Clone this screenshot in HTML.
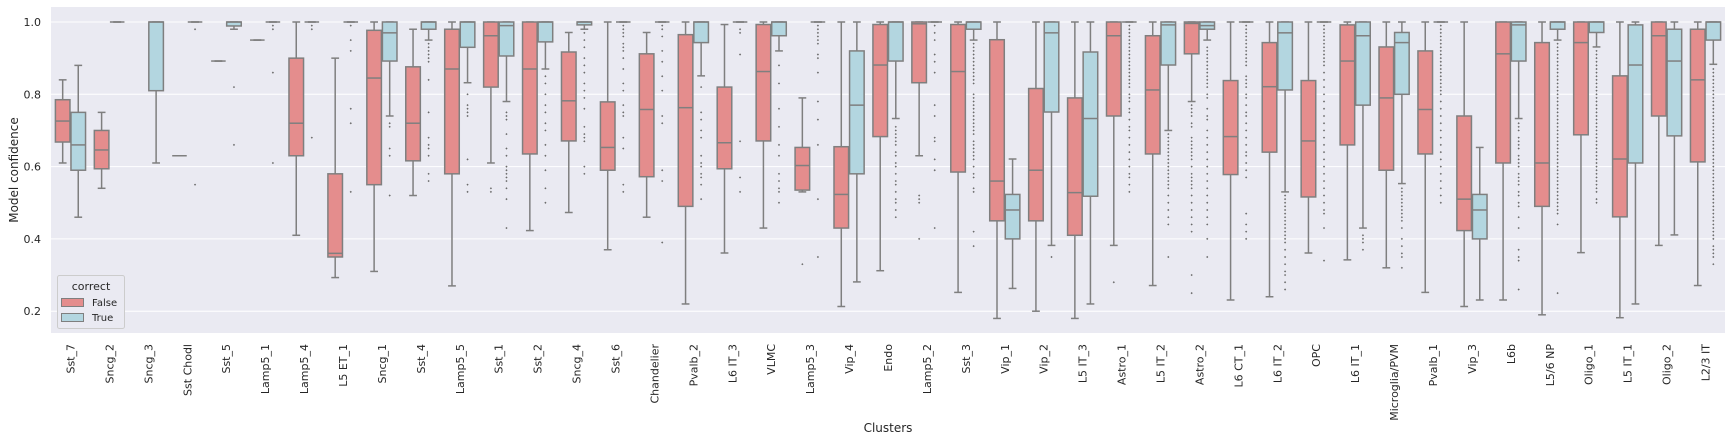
<!DOCTYPE html>
<html><head><meta charset="utf-8"><style>
html,body{margin:0;padding:0;background:#fff;}
svg{display:block;font-family:"DejaVu Sans","Liberation Sans",sans-serif;}
</style></head><body>
<svg id="chart" width="1732" height="444" viewBox="0 0 1732 444" xmlns="http://www.w3.org/2000/svg">
<rect x="51" y="7" width="1674" height="326" fill="#eaeaf2"/>
<g id="grid"></g>
<g id="yticks"></g>
<g id="marks"></g>
<g id="xticks"></g>
<text x="0" y="0" transform="translate(18,170) rotate(-90)" text-anchor="middle" font-size="12" fill="#262626">Model confidence</text>
<text x="888" y="432" text-anchor="middle" font-size="12" fill="#262626">Clusters</text>
<g>
<rect x="57.5" y="275.5" width="67" height="53" rx="2" fill="#eaeaf2" stroke="#cccccc" stroke-width="1"/>
<text x="91" y="290" text-anchor="middle" font-size="11" fill="#262626">correct</text>
<rect x="61.5" y="298.5" width="22" height="8" fill="#e48d8d" stroke="#7f7f7f"/>
<text x="92" y="306" font-size="10" fill="#262626">False</text>
<rect x="61.5" y="313.5" width="22" height="8" fill="#b3d6e0" stroke="#7f7f7f"/>
<text x="92" y="321" font-size="10" fill="#262626">True</text>
</g>
</svg>
<script>
const categories=["Sst_7","Sncg_2","Sncg_3","Sst Chodl","Sst_5","Lamp5_1","Lamp5_4","L5 ET_1","Sncg_1","Sst_4","Lamp5_5","Sst_1","Sst_2","Sncg_4","Sst_6","Chandelier","Pvalb_2","L6 IT_3","VLMC","Lamp5_3","Vip_4","Endo","Lamp5_2","Sst_3","Vip_1","Vip_2","L5 IT_3","Astro_1","L5 IT_2","Astro_2","L6 CT_1","L6 IT_2","OPC","L6 IT_1","Microglia/PVM","Pvalb_1","Vip_3","L6b","L5/6 NP","Oligo_1","L5 IT_1","Oligo_2","L2/3 IT"];
// False series: [whisker-low, q1, median, q3, whisker-high]
const falseStats=[[.61,.668,.726,.785,.84],[.54,.594,.646,.70,.75],null,[.63,.63,.63,.63,.63],[.892,.892,.892,.892,.892],[.95,.95,.95,.95,.95],[.41,.63,.72,.90,1],[.293,.35,.36,.58,.90],[.31,.55,.845,.977,1],[.52,.616,.72,.876,.98],[.27,.58,.87,.98,1],[.61,.82,.962,1,1],[.423,.635,.87,1,1],[.473,.671,.782,.917,.971],[.37,.59,.653,.779,1],[.46,.572,.758,.912,.971],[.22,.49,.763,.965,1],[.361,.594,.666,.82,.993],[.43,.671,.863,.993,1],[.53,.535,.603,.653,.79],[.213,.43,.523,.655,1],[.312,.683,.881,.993,1],[.63,.832,.995,1,1],[.252,.585,.863,.993,1],[.18,.45,.56,.951,1],[.20,.45,.59,.816,1],[.18,.41,.528,.79,1],[.382,.74,.962,1,1],[.271,.635,.812,.962,1],[.78,.912,.996,1,1],[.231,.578,.683,.838,1],[.24,.64,.821,.943,1],[.361,.516,.671,.838,1],[.342,.66,.892,.992,1],[.32,.59,.79,.931,1],[.252,.635,.758,.92,1],[.213,.423,.51,.74,1],[.231,.61,.912,1,1],[.19,.49,.61,.943,1],[.362,.688,.943,1,1],[.182,.461,.621,.851,1],[.382,.74,.962,1,1],[.271,.613,.84,.98,1]];
const trueStats=[[.46,.59,.66,.75,.88],[1,1,1,1,1],[.61,.81,1,1,1],[1,1,1,1,1],[.98,.989,1,1,1],[1,1,1,1,1],[1,1,1,1,1],[1,1,1,1,1],[.74,.892,.97,1,1],[.95,.98,1,1,1],[.832,.93,1,1,1],[.78,.906,.99,1,1],[.87,.945,1,1,1],[.98,.992,1,1,1],[1,1,1,1,1],[1,1,1,1,1],[.851,.943,1,1,1],[1,1,1,1,1],[.92,.962,1,1,1],[1,1,1,1,1],[.281,.58,.77,.92,1],[.733,.892,1,1,1],[1,1,1,1,1],[.95,.98,1,1,1],[.263,.40,.48,.523,.621],[.382,.751,.97,1,1],[.22,.518,.733,.917,1],[1,1,1,1,1],[.70,.881,.992,1,1],[.95,.98,.99,1,1],[1,1,1,1,1],[.53,.812,.97,1,1],[1,1,1,1,1],[.43,.77,.962,1,1],[.553,.80,.943,.971,1],[1,1,1,1,1],[.231,.40,.48,.523,.653],[.733,.892,.992,1,1],[.95,.98,1,1,1],[.931,.971,1,1,1],[.22,.61,.881,.992,1],[.411,.685,.892,.98,1],[.883,.95,1,1,1]];
const falseOutliers=[[],[],[],[],[],[],[],[],[],[],[],[.54,.53],[],[],[],[],[],[],[],[.33],[],[],[.52,.51,.50,.40],[],[],[],[],[.28],[],[.77,.76,.75,.74,.72,.71,.68,.67,.66,.65,.64,.63,.62,.60,.58,.57,.56,.55,.54,.52,.50,.48,.46,.44,.42,.30,.25],[],[],[],[],[],[],[],[],[],[],[],[],[]];
const trueOutliers=[[],[],[],[.98,.55],[.82,.66],[.99,.98,.86,.61],[.99,.98,.68],[.99,.95,.92,.76,.72,.53],[.72,.71,.65,.63,.52],[.94,.93,.92,.91,.90,.89,.84,.75,.68,.66,.65,.63,.58,.56],[.80,.77,.76,.75,.74,.62,.55,.53],[.75,.74,.73,.69,.65,.63,.60,.59,.58,.57,.56,.54,.51,.43],[.85,.83,.80,.77,.75,.72,.70,.66,.63,.59,.54,.50],[.97,.95,.93,.90,.88,.86,.83,.81,.79,.76,.71,.69,.68,.67,.60,.58],[.99,.98,.97,.96,.94,.93,.92,.90,.87,.83,.81,.77,.75,.74,.68,.65,.55,.53],[.99,.98,.96,.92,.89,.85,.81,.74,.72,.59,.56,.39],[.82,.75,.73,.70,.68,.63,.61,.60,.58,.57,.55,.51],[.98,.97,.91,.67,.57,.53],[.88,.83,.76,.71,.66,.63,.58,.56,.54,.53,.50],[.99,.98,.97,.96,.95,.94,.91,.90,.86,.78,.73,.66,.51,.35],[],[.71,.70,.69,.68,.67,.66,.64,.63,.61,.60,.58,.56,.55,.53,.51,.50,.48,.46],[.99,.97,.95,.91,.89,.86,.77,.74,.68,.67,.62,.59,.43],[.94,.93,.92,.91,.90,.89,.88,.87,.86,.85,.84,.83,.80,.79,.78,.77,.76,.75,.74,.73,.72,.71,.70,.69,.67,.66,.65,.64,.63,.62,.60,.58,.57,.54,.53,.42,.38],[],[.35],[],[.99,.98,.97,.96,.95,.94,.93,.92,.91,.90,.89,.88,.87,.86,.85,.84,.83,.82,.80,.79,.78,.76,.75,.73,.71,.70,.68,.66,.64,.62,.60,.58,.57,.55,.53],[.69,.68,.67,.66,.65,.64,.63,.62,.61,.60,.59,.58,.57,.56,.55,.54,.52,.50,.48,.46,.44,.35],[.93,.92,.91,.90,.89,.88,.87,.86,.85,.84,.83,.82,.80,.79,.76,.74,.73,.70,.68,.66,.64,.62,.60,.58,.56,.54,.52,.50,.48,.46,.44,.40,.35],[.99,.98,.97,.96,.95,.94,.93,.92,.91,.90,.89,.88,.85,.84,.83,.82,.80,.79,.77,.75,.74,.72,.70,.68,.66,.64,.63,.61,.59,.57,.47,.44,.42,.40],[.52,.51,.50,.49,.48,.47,.46,.45,.44,.43,.42,.41,.40,.39,.37,.35,.33,.31,.30,.28,.26],[.99,.98,.97,.96,.95,.94,.93,.92,.91,.90,.89,.88,.86,.84,.82,.80,.78,.76,.74,.72,.70,.68,.66,.64,.62,.60,.58,.56,.54,.52,.50,.48,.47,.43,.34],[.41,.40,.39,.37],[.54,.53,.52,.51,.50,.49,.48,.47,.46,.45,.43,.40,.38,.36,.35,.32],[.99,.98,.97,.96,.95,.94,.93,.92,.91,.90,.89,.88,.87,.86,.85,.84,.83,.82,.81,.80,.78,.76,.74,.72,.70,.68,.66,.64,.62,.60,.58,.56,.54,.52,.50],[],[.72,.71,.70,.68,.67,.66,.65,.63,.62,.61,.60,.58,.57,.56,.55,.53,.52,.50,.49,.46,.43,.37,.35,.34,.26],[.94,.93,.92,.91,.90,.89,.88,.87,.86,.85,.84,.83,.82,.81,.80,.79,.78,.77,.76,.75,.74,.73,.72,.71,.70,.69,.68,.67,.66,.65,.64,.63,.62,.61,.60,.59,.58,.57,.56,.55,.54,.53,.52,.51,.50,.49,.48,.47,.44,.25],[.92,.91,.90,.89,.88,.87,.86,.85,.84,.83,.82,.81,.80,.79,.78,.77,.76,.75,.74,.73,.72,.71,.70,.69,.68,.67,.66,.65,.64,.63,.62,.61,.60,.59,.58,.57,.56,.55,.54,.53,.51,.50],[],[],[.87,.86,.85,.84,.83,.82,.81,.80,.79,.78,.77,.76,.75,.74,.73,.72,.71,.70,.69,.68,.67,.66,.65,.64,.63,.62,.61,.60,.59,.58,.57,.56,.55,.54,.53,.52,.51,.50,.49,.48,.47,.46,.45,.44,.43,.42,.41,.40,.38,.37,.36,.35,.33]];
const yTickValues=[0.2,0.4,0.6,0.8,1.0];
const yTickLabels=["0.2","0.4","0.6","0.8","1.0"];

const NS="http://www.w3.org/2000/svg";
const PL=51,PR=1725,PT=7,PB=333;
const bw=(PR-PL)/categories.length;
function xCenter(i){return PL+bw*(i+0.5);}
function yScale(v){return 22+(1-v)*361.5;}
function mk(tag,attrs,parent){const e=document.createElementNS(NS,tag);for(const k in attrs)e.setAttribute(k,attrs[k]);parent.appendChild(e);return e;}

const grid=document.getElementById('grid'),yt=document.getElementById('yticks');
yTickValues.forEach((v,k)=>{
  const l=mk('line',{x1:PL,x2:PR,y1:yScale(v),y2:yScale(v),stroke:'#ffffff','stroke-width':1},grid);
  
  
  const t=mk('text',{x:41,y:yScale(v)+4,'text-anchor':'end','font-size':11,fill:'#262626'},yt);
  t.textContent=yTickLabels[k];
  
  
});

const xt=document.getElementById('xticks');
categories.forEach((c,i)=>{
  const t=mk('text',{transform:`translate(${xCenter(i)+4},344) rotate(-90)`,'text-anchor':'end','font-size':11,fill:'#262626'},xt);
  t.textContent=c;
  
  
});

const marks=document.getElementById('marks');
const half=bw*0.4,EC='#7f7f7f';
function drawBox(i,st,outs,side,fill,label){
  if(!st)return;
  const g=mk('g',{},marks);
  
  
  const x0=side===0?xCenter(i)-half:xCenter(i), x1=x0+half, xm=(x0+x1)/2;
  const [lo,q1,md,q3,hi]=st;
  const cap=half*0.25;
  mk('line',{x1:xm,x2:xm,y1:yScale(q3),y2:yScale(hi),stroke:EC,'stroke-width':1.5},g);
  mk('line',{x1:xm,x2:xm,y1:yScale(q1),y2:yScale(lo),stroke:EC,'stroke-width':1.5},g);
  mk('line',{x1:xm-cap,x2:xm+cap,y1:yScale(hi),y2:yScale(hi),stroke:EC,'stroke-width':1.5},g);
  mk('line',{x1:xm-cap,x2:xm+cap,y1:yScale(lo),y2:yScale(lo),stroke:EC,'stroke-width':1.5},g);
  mk('rect',{x:x0+0.5,y:yScale(q3),width:half-1,height:Math.max(0,yScale(q1)-yScale(q3)),fill:fill,stroke:EC,'stroke-width':1.5},g);
  mk('line',{x1:x0+0.5,x2:x1-0.5,y1:yScale(md),y2:yScale(md),stroke:EC,'stroke-width':1.5},g);
  outs.forEach(v=>{
    const p=mk('path',{d:`M${xm} ${yScale(v)-1.1}L${xm+1.1} ${yScale(v)}L${xm} ${yScale(v)+1.1}L${xm-1.1} ${yScale(v)}Z`,fill:'#6a6a6a'},g);
    
    
  });
}
categories.forEach((c,i)=>{
  drawBox(i,falseStats[i],falseOutliers[i],0,'#e48d8d','false');
  drawBox(i,trueStats[i],trueOutliers[i],1,'#b3d6e0','true');
});
</script>
</body></html>
